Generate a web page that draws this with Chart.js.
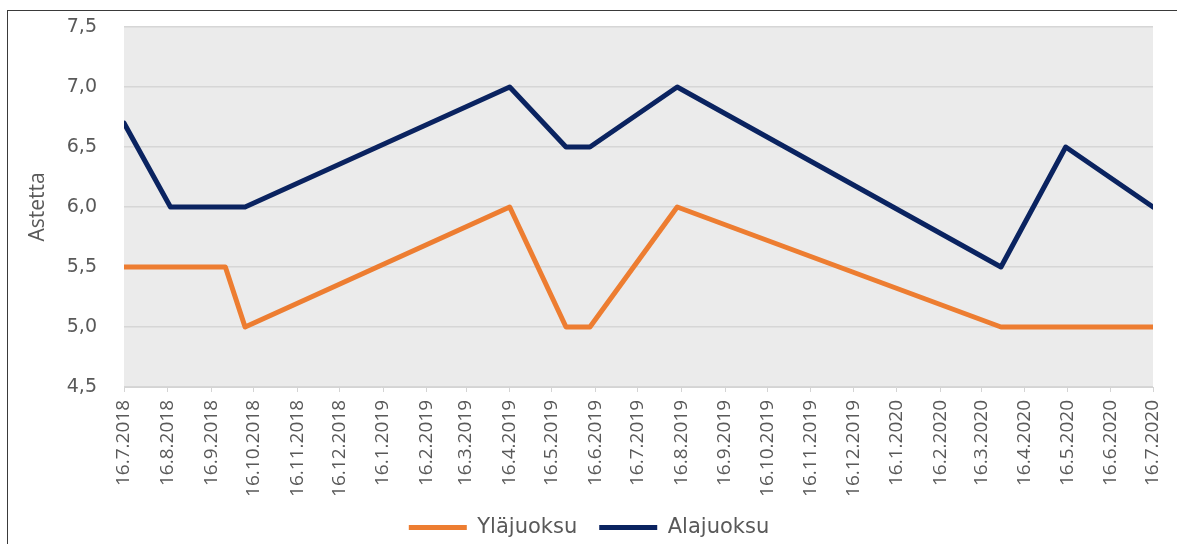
<!DOCTYPE html>
<html>
<head>
<meta charset="utf-8">
<script src="https://cdn.jsdelivr.net/npm/chart.js@4"></script>
<style>
  html, body { margin: 0; padding: 0; background: #ffffff; }
  #wrap { width: 1177px; height: 544px; }
</style>
</head>
<body>
<div id="wrap"><canvas id="temp-chart" width="1177" height="544"></canvas></div>
<script>
// measurement dates (d.m.yyyy) and water temperatures
let sampleDates = ["16.7.2018", "18.8.2018", "26.9.2018", "10.10.2018", "16.4.2019", "26.5.2019",
    "12.6.2019", "13.8.2019", "30.3.2020", "15.5.2020", "16.7.2020"];
let ylajuoksu = [5.5, 5.5, 5.5, 5.0, 6.0, 5.0, 5.0, 6.0, 5.0, 5.0, 5.0];
let alajuoksu = [6.7, 6.0, 6.0, 6.0, 7.0, 6.5, 6.5, 7.0, 5.5, 6.5, 6.0];

// x axis ticks every month on the 16th
let tickLabels = ["16.7.2018", "16.8.2018", "16.9.2018", "16.10.2018", "16.11.2018", "16.12.2018",
    "16.1.2019", "16.2.2019", "16.3.2019", "16.4.2019", "16.5.2019", "16.6.2019",
    "16.7.2019", "16.8.2019", "16.9.2019", "16.10.2019", "16.11.2019", "16.12.2019",
    "16.1.2020", "16.2.2020", "16.3.2020", "16.4.2020", "16.5.2020", "16.6.2020", "16.7.2020"];

let orange = "#ED7D31";
let navy = "#0a2360";
let greyText = "#595959";

// days since the first date, so the x axis is a plain linear scale
function dayNumber(str) {
    let parts = str.split(".");
    let start = Date.UTC(2018, 6, 16);
    let t = Date.UTC(+parts[2], +parts[1] - 1, +parts[0]);
    return Math.round((t - start) / 86400000);
}

function toPoints(values) {
    let points = [];
    values.forEach((v, i) => {
        points.push({ x: dayNumber(sampleDates[i]), y: v });
    });
    return points;
}

let tickDays = tickLabels.map(dayNumber);

// grey plot area + frame around the picture
let backgroundPlugin = {
    id: "plotBackground",
    beforeDraw(chart) {
        let ctx = chart.ctx;
        let a = chart.chartArea;
        ctx.save();
        ctx.fillStyle = "#ffffff";
        ctx.fillRect(0, 0, chart.width, chart.height);
        ctx.strokeStyle = "#3a3a3a";
        ctx.lineWidth = 1;
        ctx.strokeRect(7.5, 10.5, chart.width + 20, chart.height + 20);
        ctx.fillStyle = "#ebebeb";
        ctx.fillRect(a.left, a.top, a.right - a.left, a.bottom - a.top);
        ctx.restore();
    }
};

let ctx = document.getElementById("temp-chart").getContext("2d");
let chart = new Chart(ctx, {
    type: "line",
    data: {
        datasets: [{
            label: "Yläjuoksu",
            data: toPoints(ylajuoksu),
            borderColor: orange,
            backgroundColor: orange,
            borderWidth: 5,
            borderJoinStyle: "round",
            borderCapStyle: "round",
            pointRadius: 0,
            tension: 0
        }, {
            label: "Alajuoksu",
            data: toPoints(alajuoksu),
            borderColor: navy,
            backgroundColor: navy,
            borderWidth: 5,
            borderJoinStyle: "round",
            borderCapStyle: "round",
            pointRadius: 0,
            tension: 0
        }]
    },
    options: {
        responsive: false,
        animation: false,
        devicePixelRatio: 1,
        layout: { padding: { left: 25, right: 24, top: 27, bottom: -4 } },
        plugins: {
            tooltip: { enabled: false },
            legend: {
                position: "bottom",
                labels: {
                    usePointStyle: true,
                    pointStyle: "line",
                    pointStyleWidth: 58,
                    padding: 22,
                    color: greyText,
                    font: { family: "DejaVu Sans", size: 21 }
                }
            }
        },
        scales: {
            x: {
                type: "linear",
                min: 0,
                max: tickDays[tickDays.length - 1],
                afterBuildTicks: axis => {
                    axis.ticks = tickDays.map(d => ({ value: d }));
                },
                afterFit: axis => {
                    axis.height = 108;
                    axis.paddingLeft = 0;
                    axis.paddingRight = 0;
                },
                grid: {
                    drawOnChartArea: false,
                    drawTicks: true,
                    tickLength: 5,
                    color: "#d4d4d4"
                },
                border: { display: true, color: "#d4d4d4", width: 1 },
                ticks: {
                    autoSkip: false,
                    maxRotation: 90,
                    minRotation: 90,
                    padding: 8,
                    color: greyText,
                    font: { family: "Open Sans", size: 19 },
                    callback: (value, index) => tickLabels[index]
                }
            },
            y: {
                min: 4.5,
                max: 7.5,
                afterFit: axis => {
                    axis.width = 99;
                    axis.paddingTop = 0;
                    axis.paddingBottom = 0;
                },
                grid: {
                    drawTicks: false,
                    color: "#d6d6d6",
                    lineWidth: 1.5
                },
                border: { display: false },
                ticks: {
                    stepSize: 0.5,
                    padding: 27,
                    color: greyText,
                    font: { family: "DejaVu Sans", size: 19 },
                    callback: value => value.toFixed(1).replace(".", ",")
                },
                title: {
                    display: true,
                    text: "Astetta",
                    color: greyText,
                    padding: { top: 0, bottom: 0 },
                    font: { family: "Open Sans", size: 21 }
                }
            }
        }
    },
    plugins: [backgroundPlugin]
});
</script>
</body>
</html>
